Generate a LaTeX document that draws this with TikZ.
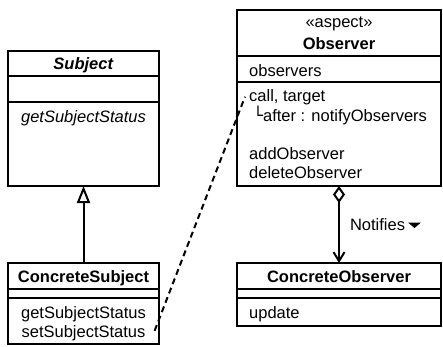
\documentclass[tikz,border=0pt]{standalone}
\usepackage{fontspec}
\setmainfont{Liberation Sans}
\newfontfamily\boxfont{DejaVu Sans}
\usetikzlibrary{positioning,arrows.meta}

\tikzset{
  comp/.style = {draw, line width=2pt, inner sep=0pt, outer sep=0pt},
  txt/.style = {inner sep=0pt},
  gen/.style = {-{Triangle[open,length=17pt,width=13pt]}, line width=2pt},
  agg/.style = {{Diamond[open,length=17pt,width=12pt]}-{Straight Barb[length=9pt,width=11pt]}, line width=2pt},
}

\begin{document}
\begin{tikzpicture}[x=1pt, y=-1pt, font=\fontsize{16.5}{19}\selectfont]
\useasboundingbox (0,0) rectangle (443,346);
% Subject
\node[comp, minimum width=151pt, minimum height=25pt, anchor=north west] (subjname) at (8,51) {};
\node[comp, minimum width=151pt, minimum height=26pt, below=0pt of subjname] (subjattr) {};
\node[comp, minimum width=151pt, minimum height=84pt, below=0pt of subjattr] (subjops) {};
\node[txt, anchor=base, yshift=-6pt] (subjlbl) at (subjname.center) {\textbf{\textit{Subject}}};
\node[txt, anchor=base, yshift=-20pt] (subjget) at (subjops.north) {\textit{getSubjectStatus}};
% ConcreteSubject
\node[comp, minimum width=151pt, minimum height=26pt, anchor=north west] (csname) at (8,263) {};
\node[comp, minimum width=151pt, minimum height=9pt, below=0pt of csname] (csattr) {};
\node[comp, minimum width=151pt, minimum height=46pt, below=0pt of csattr] (csops) {};
\node[txt, anchor=base, yshift=-6pt] (cslbl) at (csname.center) {\textbf{ConcreteSubject}};
\node[txt, anchor=base, yshift=-20pt] (csget) at (csops.north) {getSubjectStatus};
\node[txt, anchor=base, yshift=-19pt] (csset) at (csget.base) {setSubjectStatus};
% Observer
\node[comp, minimum width=204pt, minimum height=46pt, anchor=north west] (obsname) at (237,10) {};
\node[comp, minimum width=204pt, minimum height=26pt, below=0pt of obsname] (obsattr) {};
\node[comp, minimum width=204pt, minimum height=104pt, below=0pt of obsattr] (obsops) {};
\node[txt, align=center] (obslbl) at (obsname.center) {«aspect»\\[3pt]\textbf{Observer}};
\node[txt, anchor=base west, xshift=12pt, yshift=-20pt] (obsobs) at (obsattr.north west) {observers};
\node[txt, anchor=base west, xshift=12pt, yshift=-19pt] (obscall) at (obsops.north west) {call, target};
\node[txt, anchor=base west, xshift=16pt, yshift=-39pt] (obsafter) at (obsops.north west) {{\boxfont └}after : notifyObservers};
\node[txt, anchor=base west, xshift=12pt, yshift=-77pt] (obsadd) at (obsops.north west) {addObserver};
\node[txt, anchor=base west, yshift=-19pt] (obsdel) at (obsadd.base west) {deleteObserver};
% ConcreteObserver
\node[comp, minimum width=204pt, minimum height=26pt, anchor=north west] (coname) at (237,263) {};
\node[comp, minimum width=204pt, minimum height=9pt, below=0pt of coname] (coattr) {};
\node[comp, minimum width=204pt, minimum height=28pt, below=0pt of coattr] (coops) {};
\node[txt, anchor=base, yshift=-6pt] (colbl) at (coname.center) {\textbf{ConcreteObserver}};
\node[txt, anchor=base west, xshift=12pt, yshift=-20pt] (coupd) at (coops.north west) {update};
% connectors
\draw[gen] (csname) -- (subjops);
\draw[agg] (obsops) -- node[txt, right=10pt] (notifylbl) {Notifies} (coname);
\fill ([xshift=2pt,yshift=2pt]notifylbl.east) -- ++(13,0) -- ++(-6.5,5.5) -- cycle;
\coordinate (dashlo) at ([xshift=9pt,yshift=2pt]csset.east);
\coordinate (dashhi) at ([xshift=-4pt]obscall.west);
\draw[line width=2pt, dash pattern=on 6pt off 4pt] (dashlo) -- (dashhi);
\end{tikzpicture}
\end{document}
